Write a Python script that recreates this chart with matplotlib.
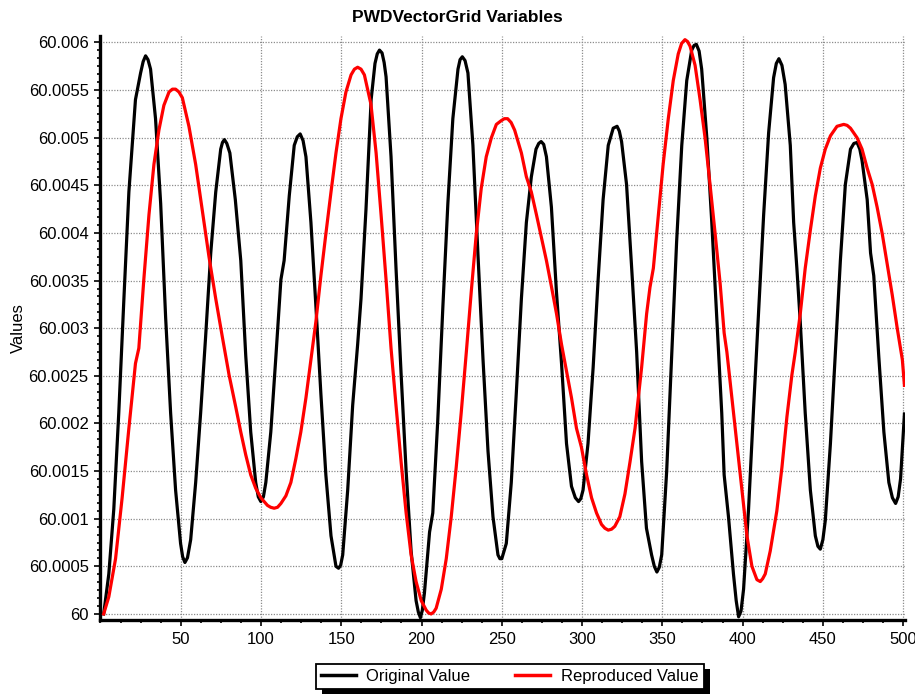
import matplotlib.pyplot as plt
import numpy as np
from matplotlib.patches import Rectangle
from matplotlib.ticker import AutoMinorLocator

plt.rcParams['font.family'] = ['Liberation Sans', 'DejaVu Sans']

BASE = 60.0
SCALE = 1e-4  # offsets below are in units of 1e-4

orig_x = [2, 5.2, 8.3, 11.4, 14.6, 17.7, 21.8, 25, 26.6, 28.1, 29.6, 31.2, 34.3, 37.5, 40.6,
          43.7, 46.8, 49.9, 51.2, 52.6, 54.2, 56.2, 59.3, 62.4, 65.5, 68.7, 71.8, 74.9, 76,
          77.2, 78.7, 80.6, 84, 87.4, 90.5, 93.6, 96.7, 98.3, 99.9, 101.5, 103, 106.1, 109.3,
          112.4, 114.4, 117.6, 120.7, 122.6, 124.4, 126.2, 128, 131.1, 134.2, 137.3, 140.4,
          143.6, 146.7, 148.3, 149.6, 150.9, 154, 157.1, 160.2, 162.3, 165.4, 168.6, 171,
          172.4, 173.8, 175.4, 176.7, 177.9, 181, 184.1, 187.3, 190.4, 193.5, 196.6, 198,
          199.3, 200.5, 201.8, 205, 207, 210.1, 213.3, 216.4, 219.5, 222.7, 224, 225.4, 227.1,
          228.9, 232, 235.1, 238.3, 241.4, 244.5, 247.6, 248.8, 250, 252.8, 255.9, 259, 262.2,
          265.3, 268.4, 271.3, 273, 274.5, 276.1, 277.8, 280.9, 284, 287.2, 290.3, 293.4,
          295.8, 297.8, 299.2, 300.6, 303.7, 306.9, 310, 313.1, 316.3, 319.4, 321.8, 323.2,
          324.6, 327.7, 330.9, 334, 337.1, 340.1, 343.3, 345, 346.6, 348.1, 349.6, 352.7,
          355.8, 358.9, 362.1, 365.2, 368.3, 369.8, 371.2, 372.9, 374.5, 377.7, 380.8, 383.9,
          387, 388.5, 391.2, 394.3, 396, 397.5, 399, 400.6, 403.7, 406.8, 410, 413.1, 416.2,
          419.3, 421, 422.6, 424.5, 426.5, 429.7, 431.8, 433.8, 435.9, 439, 442.2, 445.3,
          446.9, 448.4, 450, 451.5, 454.7, 457.8, 460.9, 464, 467.2, 469.3, 471.3, 473,
          474.4, 477.6, 479.7, 481.7, 484.8, 488, 491.1, 493.3, 495.3, 496.9, 498.4, 500.8]
orig_y = [0.0, 4.2, 11.0, 21.1, 33.1, 44.3, 54.0, 56.8, 58.0, 58.6, 58.2, 57.2, 52.0, 43.1, 31.1,
          21.1, 13.0, 7.4, 6.0, 5.4, 5.9, 7.8, 13.8, 21.1, 29.1, 37.9, 44.3, 48.8, 49.5,
          49.8, 49.4, 48.4, 43.5, 37.1, 27.1, 19.1, 13.8, 12.3, 11.8, 12.3, 13.8, 19.1, 27.1,
          35.1, 37.1, 43.9, 49.2, 50.1, 50.4, 49.7, 48.0, 41.1, 32.3, 23.1, 14.6,
          8.2, 5.0, 4.8, 5.1, 6.2, 13.0, 21.9, 28.3, 33.1, 42.5, 54.0, 57.8,
          58.8, 59.2, 58.9, 57.9, 56.4, 48.0, 36.3, 25.1, 15.0, 6.6, 1.4, 0.2,
          -0.4, 0.4, 2.2, 8.6, 10.6, 20.3, 32.3, 43.1, 52.0, 57.2, 58.2, 58.5, 58.1,
          56.8, 49.2, 37.9, 26.7, 17.1, 10.2, 6.2, 5.8, 5.8, 7.4, 13.8, 23.1, 33.1,
          41.1, 45.9, 48.8, 49.4, 49.6, 49.3, 48.0, 42.7, 33.9, 26.3, 17.9, 13.4,
          12.2, 11.8, 12.1, 13.0, 17.9, 25.9, 35.1, 43.5, 49.2, 51.0, 51.2, 50.7,
          49.6, 45.1, 36.3, 27.5, 16.0, 9.0, 6.2, 5.0, 4.4, 4.9, 6.2, 15.0,
          27.1, 39.1, 49.2, 56.0, 59.2, 59.7, 59.8, 59.1, 57.2, 50.0, 41.1, 31.1,
          21.1, 14.6, 10.2, 4.2, 1.4, -0.3, 0.3, 2.6, 11.0, 21.5, 31.9, 41.9, 50.5,
          56.3, 57.8, 58.3, 57.6, 55.6, 49.2, 41.1, 36.3, 30.7, 21.1, 13.0, 8.2,
          7.1, 6.8, 7.8, 9.8, 17.9, 27.5, 37.1, 45.1, 48.8, 49.4, 49.5, 48.8,
          47.6, 43.5, 37.9, 35.5, 27.1, 19.1, 13.8, 12.2, 11.6, 12.3, 14.2, 21.0]

repr_x = [2, 5.2, 9.4, 13.5, 17.7, 21.8, 23.9, 27, 30.2, 33.3, 36.4, 39.5, 42.7, 44.8, 46.8,
          48.9, 51, 55.1, 59.3, 63.5, 67.6, 71.8, 75.9, 80.1, 84.3, 87.4, 90.5, 93.6, 96.7,
          99.9, 104, 106, 108.2, 110.3, 112.4, 115.5, 118.6, 121.7, 124.8, 128, 131.1, 134.2,
          137.3, 140.4, 143.6, 146.7, 149.8, 152.9, 156.1, 158.2, 160.2, 162.3, 164.4, 168.5,
          171.7, 174.8, 177.9, 181, 184.1, 187.3, 190.4, 193.5, 196.6, 199.8, 202.9, 204.4,
          206, 207.6, 209.1, 212.3, 215.4, 218.5, 221.6, 224.7, 227.9, 231, 234.1, 237.2,
          240.3, 243.5, 246.6, 249.7, 251.6, 253.6, 255.8, 258, 262.2, 265.3, 268.4, 271.6,
          274.7, 277.8, 281, 284.1, 287.2, 290.3, 293.4, 296.5, 299.6, 302.8, 305.9, 309,
          312.1, 314.2, 316.3, 318.4, 320.4, 323.5, 326.7, 329.8, 333, 337.1, 340.2, 342.3,
          344.4, 347.5, 350.5, 353.7, 356.8, 359.9, 362, 364.1, 365.7, 367.3, 370.4, 373.5,
          376.6, 379.7, 382.9, 386, 388.5, 390.2, 393.3, 396.4, 399.5, 402.7, 405.8, 408.9,
          411, 412.5, 414.1, 417.2, 421.3, 424.5, 427.6, 430.7, 432.8, 435.9, 439, 442.2,
          445.3, 448.4, 451.5, 454.7, 458.8, 460.9, 463, 465.1, 467.2, 471.3, 474.4, 477.6,
          480.7, 483.8, 487, 490.1, 493.2, 496.4, 499.5, 500.8]
repr_y = [0.0, 1.8, 5.8, 12.2, 19.5, 26.3, 27.9, 35.1, 41.9, 47.2, 50.8, 53.4, 54.8, 55.1, 55.1,
          54.8, 54.2, 51.2, 47.2, 42.3, 37.5, 33.1, 29.1, 25.1, 21.7, 19.1, 16.7, 14.6, 13.2,
          12.2, 11.4, 11.2, 11.1, 11.2, 11.6, 12.4, 13.8, 16.3, 19.1, 22.7, 26.7, 30.7,
          35.5, 39.9, 44.3, 48.4, 52.0, 54.8, 56.6, 57.2, 57.4, 57.2, 56.6, 53.5,
          48.4, 41.9, 35.1, 27.9, 21.9, 15.9, 10.6, 6.2, 3.4, 1.4, 0.4, 0.1,
          0.0, 0.2, 0.6, 2.6, 5.8, 10.2, 15.4, 21.1, 27.5, 33.9, 39.9, 44.7,
          48.0, 50.0, 51.4, 51.8, 52.0, 52.0, 51.6, 50.8, 48.4, 45.9, 44.3, 41.9,
          39.5, 37.1, 34.3, 31.5, 28.3, 25.5, 22.7, 19.5, 17.5, 14.6, 12.2, 10.6,
          9.4, 9.0, 8.8, 8.9, 9.2, 10.2, 12.6, 15.9, 19.5, 25.9, 31.5, 34.3,
          36.3, 41.9, 47.2, 52.0, 56.0, 58.8, 59.9, 60.3, 60.1, 59.6, 57.6, 54.0,
          50.0, 45.1, 39.9, 34.7, 29.5, 27.5, 22.7, 17.9, 13.0, 8.2, 5.0, 3.6,
          3.4, 3.7, 4.2, 6.6, 10.8, 15.4, 20.7, 25.1, 27.5, 31.5, 36.3, 40.3,
          43.9, 46.8, 48.8, 50.2, 51.2, 51.3, 51.4, 51.3, 51.0, 50.0, 48.8, 46.8,
          45.1, 42.7, 39.9, 36.7, 33.5, 29.9, 26.7, 24.0]

x_ticks = [50, 100, 150, 200, 250, 300, 350, 400, 450, 500]
y_ticks = [60.0, 60.0005, 60.001, 60.0015, 60.002, 60.0025, 60.003, 60.0035,
           60.004, 60.0045, 60.005, 60.0055, 60.006]
y_tick_labels = ['60', '60.0005', '60.001', '60.0015', '60.002', '60.0025', '60.003',
                 '60.0035', '60.004', '60.0045', '60.005', '60.0055', '60.006']

fig = plt.figure(figsize=(9.15, 6.95), dpi=100)
ax = fig.add_axes([0.1098, 0.108, 0.879, 0.8395])

ax.plot(orig_x, BASE + np.array(orig_y) * SCALE, color='black', lw=2.3,
        solid_joinstyle='round', label='Original Value', zorder=3)
ax.plot(repr_x, BASE + np.array(repr_y) * SCALE, color='#ff0000', lw=2.3,
        solid_joinstyle='round', label='Reproduced Value', zorder=3)

ax.set_xlim(0, 501)
ax.set_ylim(59.999937, 60.006063)
ax.set_xticks(x_ticks)
ax.set_yticks(y_ticks)
ax.set_yticklabels(y_tick_labels)
ax.xaxis.set_minor_locator(AutoMinorLocator(4))
ax.yaxis.set_minor_locator(AutoMinorLocator(6))

ax.grid(True, which='major', color='#8c8c8c', linestyle=(0, (1, 1.2)), linewidth=0.9)
ax.set_axisbelow(True)

for side in ['top', 'right']:
    ax.spines[side].set_visible(False)
for side in ['left', 'bottom']:
    ax.spines[side].set_linewidth(2.4)
    ax.spines[side].set_color('black')

ax.tick_params(which='major', direction='out', length=4.5, width=1.2, labelsize=12,
               colors='black', pad=4)
ax.tick_params(which='minor', direction='out', length=2.5, width=1.2, colors='black')

fig.text(0.5, 1 - 17 / 695, 'PWDVectorGrid Variables', ha='center', va='center',
         fontsize=12.5, fontweight='bold')
ax.set_ylabel('Values', fontsize=12, labelpad=2)

leg = fig.legend(loc='center', bbox_to_anchor=(0.557, 0.0273), ncol=2, fontsize=12,
                 frameon=True, fancybox=False, edgecolor='black', framealpha=1,
                 handlelength=2.1, handletextpad=0.65, columnspacing=2.7,
                 borderpad=0.3, borderaxespad=0)
leg.get_frame().set_linewidth(1.3)
for line in leg.get_lines():
    line.set_linewidth(2.5)

# solid drop shadow behind the legend box
fig.canvas.draw()
bb = leg.get_window_extent()
fig.patches.append(Rectangle((bb.x0 + 6, bb.y0 - 5), bb.width, bb.height,
                             transform=None, facecolor='black', edgecolor='none',
                             zorder=4, figure=fig))

fig.savefig('out.png', dpi=100)
